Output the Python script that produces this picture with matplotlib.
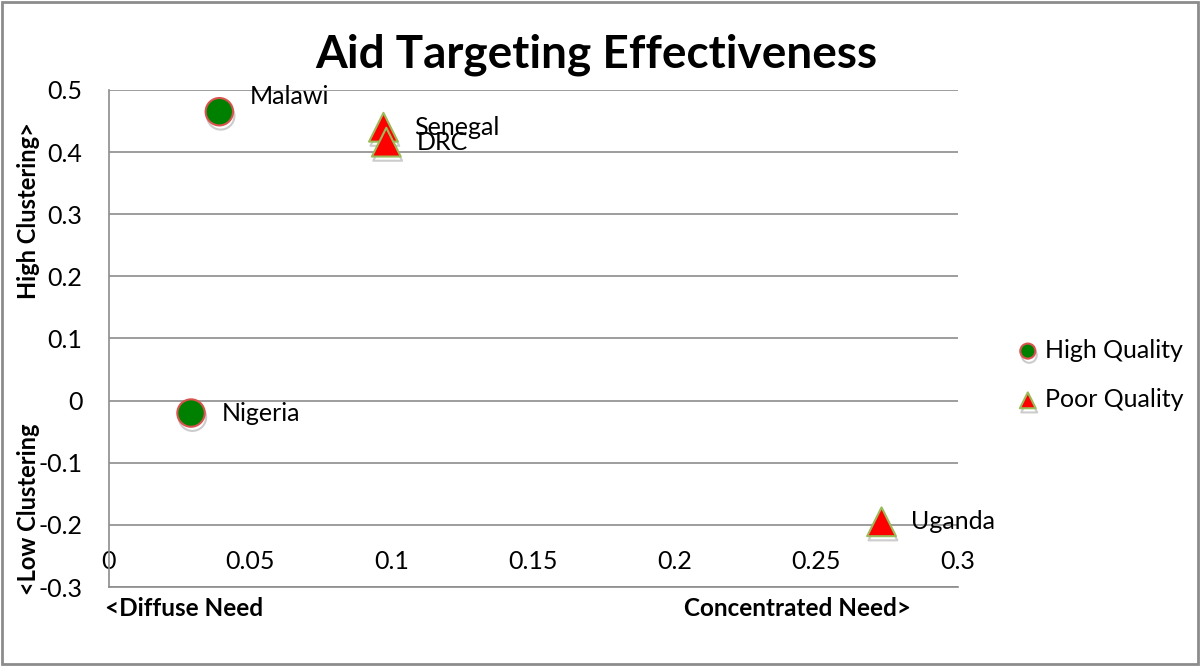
import matplotlib.pyplot as plt
import matplotlib.patheffects as pe

plt.rcParams['font.family'] = ['Lato', 'DejaVu Sans']

# datos
high_names = ['Malawi', 'Nigeria']
high_x = [0.039, 0.029]
high_y = [0.465, -0.020]

poor_names = ['Senegal', 'DRC', 'Uganda']
poor_x = [0.097, 0.098, 0.273]
poor_y = [0.440, 0.416, -0.195]

x_ticks = [0, 0.05, 0.1, 0.15, 0.2, 0.25, 0.3]
x_labels = ['0', '0.05', '0.1', '0.15', '0.2', '0.25', '0.3']
y_ticks = [-0.3, -0.2, -0.1, 0, 0.1, 0.2, 0.3, 0.4, 0.5]
y_labels = ['-0.3', '-0.2', '-0.1', '0', '0.1', '0.2', '0.3', '0.4', '0.5']

fig = plt.figure(figsize=(12, 6.66), dpi=100)
ax = fig.add_axes([0.0908, 0.1186, 0.7075, 0.7463])

sombra = [pe.SimpleLineShadow(offset=(1.0, -3.0), alpha=0.2), pe.Normal()]

ax.scatter(high_x, high_y, s=390, marker='o', color='#008000',
           edgecolors='#D9534F', linewidths=1.5, zorder=3,
           label='High Quality', path_effects=sombra)
ax.scatter(poor_x, poor_y, s=430, marker='^', color='#FF0000',
           edgecolors='#9BBB59', linewidths=1.5, zorder=3,
           label='Poor Quality', path_effects=sombra)

offsets = {'Malawi': (22, 11), 'Nigeria': (22, 0), 'Senegal': (22, 0),
           'DRC': (22, 0), 'Uganda': (21, 0)}
for n, x, y in zip(high_names + poor_names, high_x + poor_x, high_y + poor_y):
    ax.annotate(n, (x, y), xytext=offsets[n], textcoords='offset points',
                fontsize=18, va='center')

ax.set_xlim(0, 0.3)
ax.set_ylim(-0.3, 0.5)
ax.set_yticks(y_ticks, y_labels, fontsize=18)
ax.set_xticks(x_ticks, x_labels, fontsize=18)
ax.tick_params(axis='x', length=0, pad=-27)
ax.tick_params(axis='y', length=0, pad=19)

ax.grid(axis='y', color='#8C8C8C', linewidth=1.2)
ax.set_axisbelow(True)
ax.spines['top'].set_visible(False)
ax.spines['right'].set_visible(False)
ax.spines['left'].set_color('#8C8C8C')
ax.spines['bottom'].set_color('#8C8C8C')
ax.spines['left'].set_linewidth(1.2)
ax.spines['bottom'].set_linewidth(1.2)

fig.text(0.497, 0.918, 'Aid Targeting Effectiveness', fontsize=33,
         fontweight='bold', ha='center', va='center')
fig.text(0.024, 0.683, 'High Clustering>', fontsize=17, fontweight='bold',
         rotation=90, ha='center', va='center')
fig.text(0.024, 0.235, '<Low Clustering', fontsize=17, fontweight='bold',
         rotation=90, ha='center', va='center')
fig.text(0.0875, 0.087, '<Diffuse Need', fontsize=17.5, fontweight='bold',
         ha='left', va='center')
fig.text(0.759, 0.087, 'Concentrated Need>', fontsize=17.5, fontweight='bold',
         ha='right', va='center')

ax.legend(loc='center left', bbox_to_anchor=(1.044, 0.427), frameon=False,
          fontsize=18, handlelength=0.8, handletextpad=0.3,
          labelspacing=1.05, markerscale=0.55)

# marco gris de la figura
fig.patches.append(plt.Rectangle((0.002, 0.003), 0.996, 0.994,
                                 transform=fig.transFigure, fill=False,
                                 edgecolor='#8C8C8C', linewidth=2))

plt.savefig('out.png', dpi=100)
